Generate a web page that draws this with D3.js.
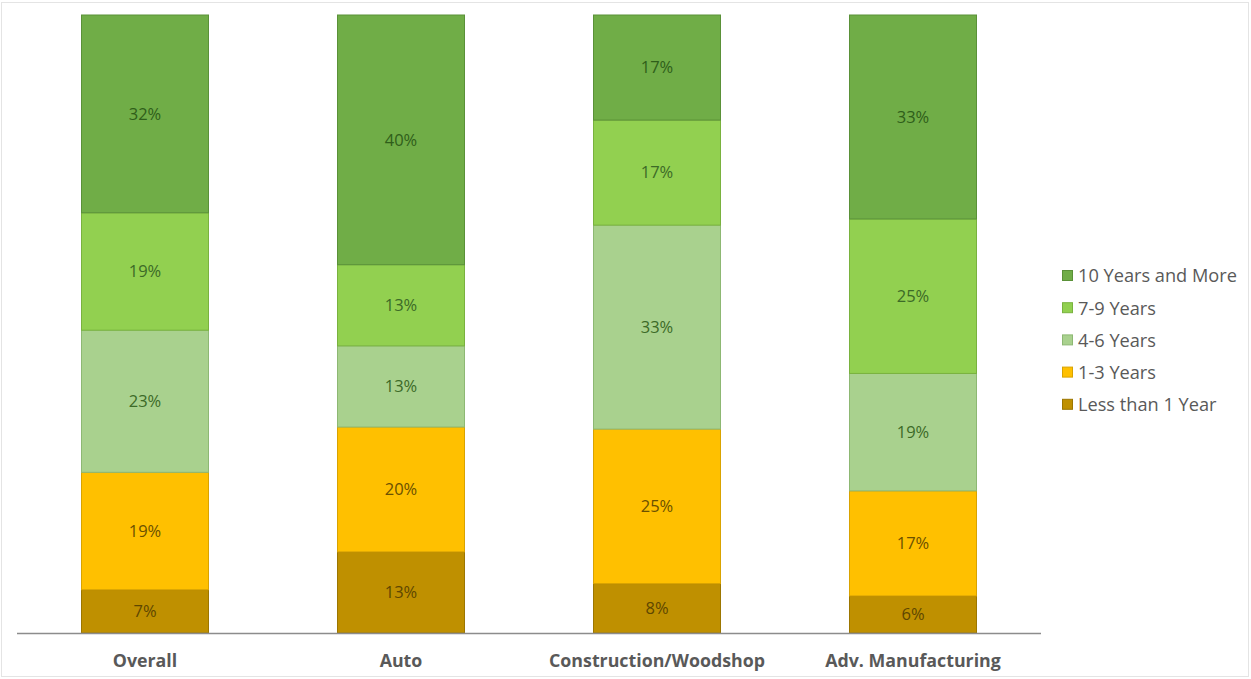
<!DOCTYPE html>
<html>
<head>
<meta charset="utf-8">
<script src="https://cdn.jsdelivr.net/npm/d3@7"></script>
<style>
  html, body { margin: 0; padding: 0; background: #fff; }
  svg { display: block; }
  text { font-family: "Open Sans", "Noto Sans", "Liberation Sans", sans-serif; }
</style>
</head>
<body>
<svg id="chart" width="1251" height="679"></svg>
<script>
// Tenure distribution by program (share of respondents, %)
const categories = ["Overall", "Auto", "Construction/Woodshop", "Adv. Manufacturing"];
const seriesNames = ["Less than 1 Year", "1-3 Years", "4-6 Years", "7-9 Years", "10 Years and More"];
const lessThan1 = [7, 13, 8, 6];
const years1to3 = [19, 20, 25, 17];
const years4to6 = [23, 13, 33, 19];
const years7to9 = [19, 13, 17, 25];
const years10plus = [32, 40, 17, 33];

const fills = ["#BF9000", "#FFC000", "#A9D18E", "#92D050", "#70AD47"];
const strokes = ["#9C7600", "#D9A300", "#8DB873", "#79B23E", "#5A9138"];
const labelColors = ["#5E4700", "#6B5000", "#3C6A27", "#3C6A27", "#2F5E1A"];

const seriesValues = [lessThan1, years1to3, years4to6, years7to9, years10plus];
const rows = categories.map((c, i) => {
  const r = { category: c };
  seriesNames.forEach((s, k) => r[s] = seriesValues[k][i]);
  return r;
});

const svg = d3.select("#chart");
const W = 1251, H = 679;

// faint frame around the chart
svg.append("rect")
  .attr("x", 1.5).attr("y", 2.5).attr("width", W - 4).attr("height", H - 5)
  .attr("fill", "none").attr("stroke", "#e4e4e4").attr("stroke-width", 1);

const plot = { left: 17, right: 1041, top: 15, bottom: 633 };

const x = d3.scaleBand().domain(categories).range([plot.left, plot.right]).paddingInner(0.5).paddingOuter(0.25);
const y = d3.scaleLinear().domain([0, 1]).range([plot.bottom, plot.top]);

// 100% stacked layout
const stack = d3.stack().keys(seriesNames).offset(d3.stackOffsetExpand);
const layers = stack(rows);

const g = svg.append("g");
layers.forEach((layer, k) => {
  const lg = g.append("g");
  lg.selectAll("rect").data(layer).join("rect")
    .attr("x", d => x(d.data.category) + 0.5)
    .attr("width", x.bandwidth() - 1)
    .attr("y", d => y(d[1]))
    .attr("height", d => y(d[0]) - y(d[1]))
    .attr("fill", fills[k])
    .attr("stroke", strokes[k])
    .attr("stroke-width", 1);
  lg.selectAll("text").data(layer).join("text")
    .attr("x", d => x(d.data.category) + x.bandwidth() / 2)
    .attr("y", d => (y(d[0]) + y(d[1])) / 2)
    .attr("dy", "0.35em")
    .attr("text-anchor", "middle")
    .attr("font-size", 16.5)
    .attr("fill", labelColors[k])
    .text(d => d.data[seriesNames[k]] + "%");
});

// category axis
svg.append("line")
  .attr("x1", plot.left).attr("x2", plot.right)
  .attr("y1", plot.bottom + 0.5).attr("y2", plot.bottom + 0.5)
  .attr("stroke", "#8c8c8c").attr("stroke-width", 1.5);

svg.append("g").selectAll("text").data(categories).join("text")
  .attr("x", d => x(d) + x.bandwidth() / 2)
  .attr("y", 661)
  .attr("dy", "0.35em")
  .attr("text-anchor", "middle")
  .attr("font-size", 17.8)
  .attr("font-weight", "bold")
  .attr("fill", "#595959")
  .text(d => d);

// legend, top entry = top of stack
const legendItems = seriesNames.map((s, k) => ({ name: s, k })).reverse();
const legend = svg.append("g").attr("transform", "translate(1062,276)");
const li = legend.selectAll("g").data(legendItems).join("g")
  .attr("transform", (d, i) => `translate(0,${i * 32.2})`);
li.append("rect")
  .attr("x", 0.5).attr("y", -5.5).attr("width", 10).attr("height", 10)
  .attr("fill", d => fills[d.k]).attr("stroke", d => strokes[d.k]);
li.append("text")
  .attr("x", 16).attr("y", 0).attr("dy", "0.35em")
  .attr("font-size", 18.2).attr("fill", "#595959")
  .text(d => d.name);
</script>
</body>
</html>
